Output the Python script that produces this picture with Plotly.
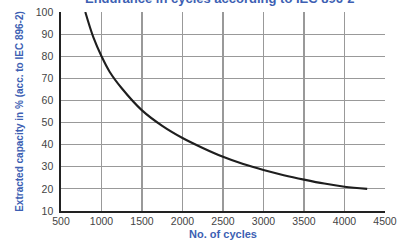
import plotly.graph_objects as go

cycles = [800, 900, 1000, 1100, 1250, 1500, 1750, 2000, 2250, 2500, 2750, 3000, 3250, 3500, 3750, 4000, 4280]
capacity = [100, 88.5, 80, 73, 65.5, 55.5, 48.5, 43, 38.5, 34.5, 31.2, 28.5, 26.2, 24.2, 22.4, 21, 20]

x_ticks = [500, 1000, 1500, 2000, 2500, 3000, 3500, 4000, 4500]
y_ticks = [10, 20, 30, 40, 50, 60, 70, 80, 90, 100]

title_text = "Endurance in cycles according to IEC 896-2"
x_title = "No. of cycles"
y_title = "Extracted capacity in % (acc. to IEC 896-2)"

blue = "#3d5fb3"
font_family = "Liberation Sans, Arial, sans-serif"

fig = go.Figure()
fig.add_trace(go.Scatter(
    x=cycles, y=capacity, mode="lines",
    line=dict(color="#1e1e1e", width=2.1, shape="spline", smoothing=1.0),
    hoverinfo="skip", showlegend=False,
))

fig.update_layout(
    width=410, height=246,
    margin=dict(l=61, r=25, t=12, b=35, autoexpand=False),
    paper_bgcolor="white", plot_bgcolor="white",
    font=dict(family=font_family, size=10, color="#444444"),
    showlegend=False,
)

fig.update_xaxes(
    range=[500, 4500], tickvals=x_ticks, ticktext=[str(v) for v in x_ticks],
    showgrid=True, gridcolor="#999999", gridwidth=1.2,
    showline=True, linecolor="#222222", linewidth=1.6,
    ticks="", zeroline=False, automargin=False,
    tickfont=dict(family=font_family, size=10.5, color="#444444"),
    title=dict(text=x_title, font=dict(family=font_family, size=11, color=blue, weight="bold"), standoff=4),
)
fig.update_yaxes(
    range=[10, 100], tickvals=y_ticks, ticktext=[str(v) for v in y_ticks],
    showgrid=True, gridcolor="#999999", gridwidth=1.2,
    showline=True, linecolor="#222222", linewidth=1.6,
    ticks="", zeroline=False, ticklabelstandoff=4, automargin=False,
    tickfont=dict(family=font_family, size=10.5, color="#444444"),
    title=dict(text=y_title, font=dict(family=font_family, size=10, color=blue, weight="bold"), standoff=10),
)

fig.add_annotation(
    text="<b>" + title_text + "</b>", xref="paper", yref="paper",
    x=0.49, y=1.0, yshift=4, xanchor="center", yanchor="bottom",
    showarrow=False, font=dict(family=font_family, size=13, color=blue),
)

fig.write_html(
    "out.html",
    config={"displayModeBar": False, "staticPlot": True},
    post_script="document.body.style.margin='0';document.body.style.overflow='hidden';",
)
